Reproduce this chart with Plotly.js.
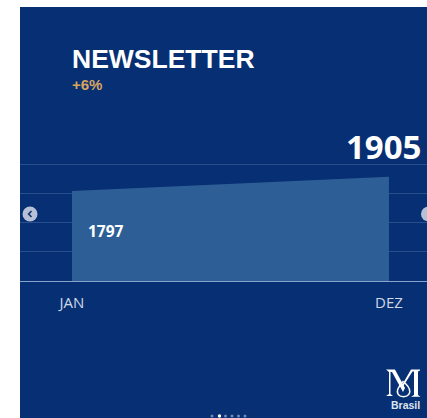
<!DOCTYPE html>
<html><head><meta charset="utf-8">
<script src="https://cdn.plot.ly/plotly-3.0.1.min.js"></script>
<style>html,body{margin:0;padding:0;background:#fff;overflow:hidden}#c{width:427px;height:418px}</style>
</head><body><div id="c"></div>
<script>
const months = ["JAN", "DEZ"];
const newsletter = [1797, 1905];
const gridTicks = [1120, 1340, 1560, 1780, 2000];
const titleText = "NEWSLETTER";
const growthText = "+6%";
const brandText = "Brasil";

const W = 427, H = 418, L = 20, R = 0, T = 134, B = 137;
const px = x => (x - L) / (W - L - R);
const py = y => 1 - (y - T) / (H - T - B);
const pathPx = s => s.replace(/(-?[\d.]+),(-?[\d.]+)/g, (m, a, b) => px(+a) + "," + py(+b));
const circle = (cx, cy, r, color) => ({type:"circle", xref:"paper", yref:"paper", x0:px(cx-r), x1:px(cx+r), y0:py(cy+r), y1:py(cy-r), fillcolor:color, line:{width:0}, layer:"above"});
const label = (text, x, y, size, color, family, xanchor) => ({text, x:px(x), y:py(y), xref:"paper", yref:"paper", xanchor, yanchor:"middle", showarrow:false, font:{size, color, family, weight:700}});
const filled = d => ({type:"path", xref:"paper", yref:"paper", path:pathPx(d), fillcolor:"#ffffff", line:{width:0}, layer:"above"});

const BG = "#072f73";
const shapes = [
  {type:"rect", xref:"paper", yref:"paper", x0:px(20), x1:px(427), y0:py(7), y1:py(418), fillcolor:BG, line:{width:0}, layer:"below"},
  circle(30, 214, 7.5, "#b6c1d8"),
  {type:"path", xref:"paper", yref:"paper", path:pathPx("M 31.5,211 L 28.7,214 L 31.5,217"), line:{color:"#1f3a70", width:1.8}, layer:"above"},
  circle(428.5, 214, 7.5, "#b6c1d8"),
  circle(212, 416, 1.5, "#6f88b5"), circle(219.5, 416, 1.7, "#ffffff"), circle(225.5, 416, 1.5, "#6f88b5"),
  circle(232, 416, 1.5, "#6f88b5"), circle(238.5, 416, 1.5, "#6f88b5"), circle(245, 416, 1.5, "#6f88b5"),
  filled("M 386,369.5 L 395,369.5 L 405,388 L 403,392 L 392,372 L 390.5,372 L 390.5,394 L 393,396 L 386,396 L 389,394 L 389,372 Z"),
  filled("M 420,369.5 L 411,369.5 L 402,385 L 403,386.5 L 412.5,371.5 L 414,371.5 L 414,395 L 411,396.8 L 420.5,396.8 L 418,395 L 418,371.5 L 420,370.5 Z"),
  {type:"path", xref:"paper", yref:"paper", path:pathPx("M 403.5,381 C 398,387 396,391 398,394 C 400,397.5 407,397.5 409,394 C 411,391 409,387 405,383"), line:{color:"#ffffff", width:1.5}, layer:"above"}
];

const annotations = [
  label(titleText, 70, 58.5, 26.5, "#ffffff", "Liberation Sans", "left"),
  label(growthText, 70, 84.5, 15, "#d9a55f", "Liberation Sans", "left"),
  label(String(newsletter[1]), 423, 146.5, 33, "#ffffff", "Open Sans", "right"),
  label(String(newsletter[0]), 86, 231, 15.5, "#ffffff", "Open Sans", "left"),
  label(brandText, 405, 405, 10.5, "#dfe5ef", "Liberation Sans", "center")
];

Plotly.newPlot("c", [{
  x: months, y: newsletter, type: "scatter", mode: "none",
  fill: "tozeroy", fillcolor: "#2d5f96", hoverinfo: "skip", showlegend: false
}], {
  width: W, height: H, autosize: false,
  margin: {l:L, r:R, t:T, b:B, pad:0},
  paper_bgcolor: "#ffffff", plot_bgcolor: "rgba(0,0,0,0)",
  showlegend: false,
  xaxis: {type:"category", range:[-0.164, 1.12], showgrid:false, zeroline:false, fixedrange:true,
          showline:true, linecolor:"#8aa3cb", linewidth:1, ticks:"", ticklabelstandoff:8,
          tickfont:{family:"Open Sans", size:15, color:"#ced7e6"}},
  yaxis: {range:[1120, 2225.6], tickmode:"array", tickvals:gridTicks, showticklabels:false,
          showgrid:true, gridcolor:"#2a4f8d", gridwidth:1, zeroline:false, showline:false, ticks:"", fixedrange:true},
  shapes, annotations
}, {displayModeBar:false, staticPlot:true});
</script></body></html>
